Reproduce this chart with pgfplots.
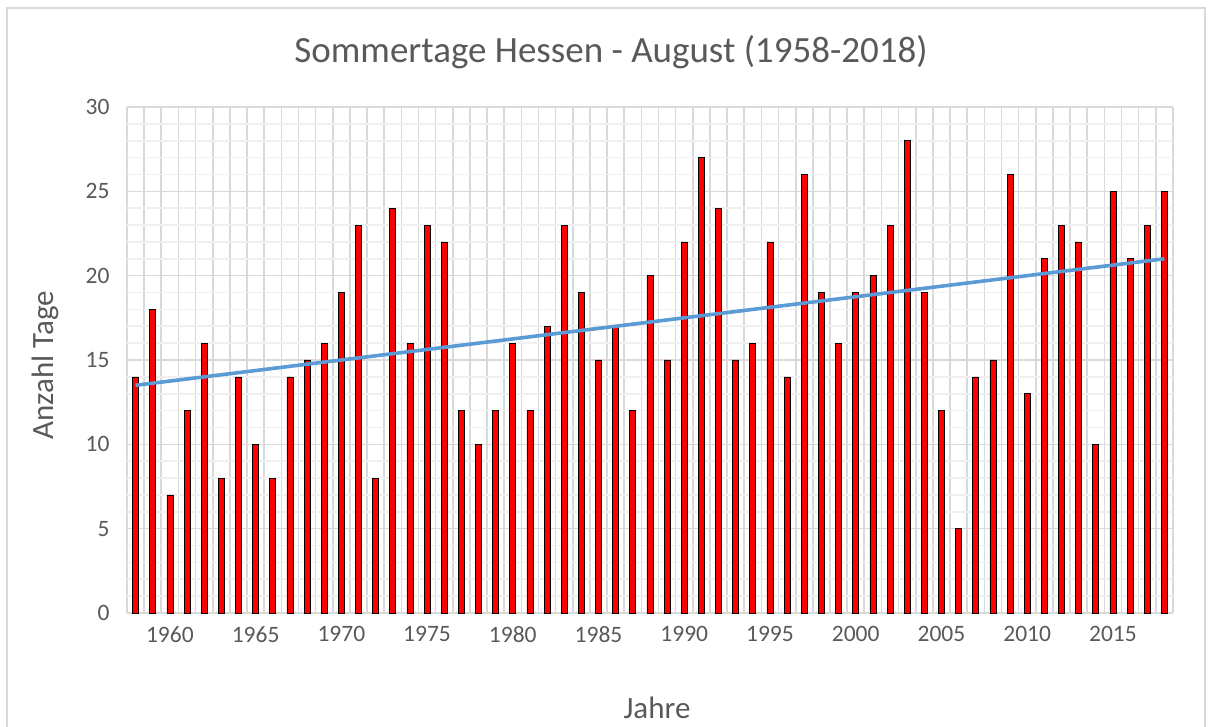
\documentclass[border=0pt]{standalone}
\usepackage{fontspec}
\setmainfont{Carlito}
\usepackage{pgfplots}
\pgfplotsset{compat=1.18}
\definecolor{txt}{HTML}{595959}
\definecolor{gmaj}{HTML}{D9D9D9}
\definecolor{gmin}{HTML}{F0F0F0}
\definecolor{trend}{HTML}{5B9BD5}
\begin{document}
\begin{tikzpicture}
\useasboundingbox (0pt,0pt) rectangle (1212pt,727pt);
\draw[gmaj, line width=1.5pt] (7pt,-2pt) -- (7pt,719pt) -- (1205pt,719pt) -- (1205pt,-2pt);
\begin{axis}[
  at={(127pt,114pt)}, anchor=south west,
  scale only axis, width=1046pt, height=506pt,
  xmin=1957.5, xmax=2018.5, ymin=0, ymax=30,
  xtick={1960,1965,...,2015},
  minor xtick={1957.5,1958.5,...,2018.5},
  ytick={0,5,...,30},
  minor ytick={1,2,3,4,6,7,8,9,11,12,13,14,16,17,18,19,21,22,23,24,26,27,28,29},
  xminorgrids, ymajorgrids, yminorgrids,
  major grid style={draw=gmaj, line width=1.6pt},
  minor x grid style={draw=gmaj, line width=1.6pt},
  minor y grid style={draw=gmin, line width=1.6pt},
  major tick length=0pt, minor tick length=0pt,
  axis line style={draw=none},
  tick label style={font=\fontsize{23.5}{27}\selectfont, text=txt},
  /pgf/number format/.cd, 1000 sep={}, assume math mode=true,
  /pgfplots/.cd,
  yticklabel style={xshift=-14pt},
  xticklabel style={yshift=-10pt},
  clip=false,
]
\addplot[ybar, bar width=6pt, fill=red, draw=black, line width=0.7pt] coordinates {
(1958,14) (1959,18) (1960,7) (1961,12) (1962,16) (1963,8) (1964,14) (1965,10)
(1966,8) (1967,14) (1968,15) (1969,16) (1970,19) (1971,23) (1972,8) (1973,24)
(1974,16) (1975,23) (1976,22) (1977,12) (1978,10) (1979,12) (1980,16) (1981,12)
(1982,17) (1983,23) (1984,19) (1985,15) (1986,17) (1987,12) (1988,20) (1989,15)
(1990,22) (1991,27) (1992,24) (1993,15) (1994,16) (1995,22) (1996,14) (1997,26)
(1998,19) (1999,16) (2000,19) (2001,20) (2002,23) (2003,28) (2004,19) (2005,12)
(2006,5) (2007,14) (2008,15) (2009,26) (2010,13) (2011,21) (2012,23) (2013,22)
(2014,10) (2015,25) (2016,21) (2017,23) (2018,25)
};
\addplot[trend, line width=3.6pt] coordinates {(1958,13.5) (2018,21.0)};
\end{axis}
\node[text=txt, font=\fontsize{37}{44}\selectfont] at (611pt,675pt) {Sommertage Hessen - August (1958-2018)};
\node[text=txt, font=\fontsize{31}{37}\selectfont, rotate=90] at (45pt,362pt) {Anzahl Tage};
\node[text=txt, font=\fontsize{31}{37}\selectfont] at (657pt,19pt) {Jahre};
\end{tikzpicture}
\end{document}
